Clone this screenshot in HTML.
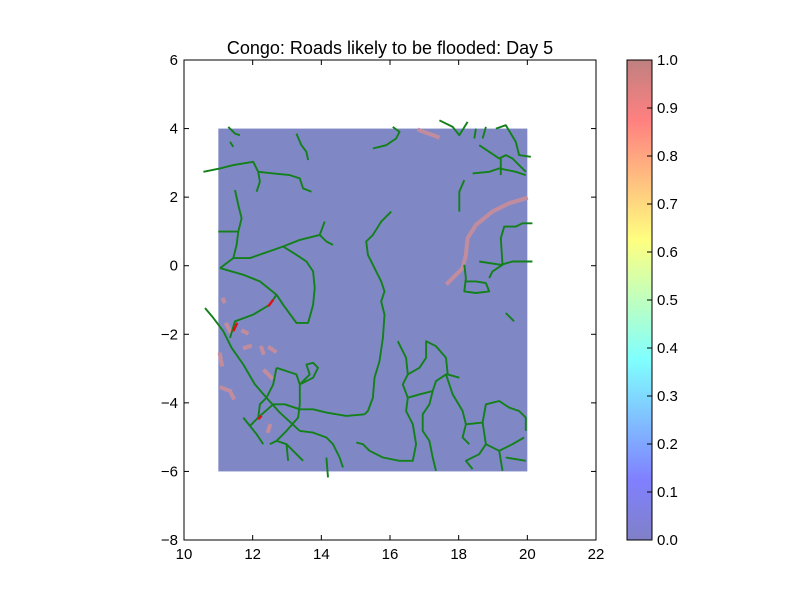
<!DOCTYPE html>
<html><head><meta charset="utf-8"><style>
html,body{margin:0;padding:0;background:#fff;}
svg{display:block;font-family:"Liberation Sans",Arial,sans-serif;}
</style></head><body>
<svg id="chart" width="800" height="600" viewBox="0 0 800 600">
<defs>
<linearGradient id="jet" x1="0" y1="1" x2="0" y2="0">
<stop offset="0" stop-color="#00008f"/><stop offset="0.125" stop-color="#0000ff"/>
<stop offset="0.375" stop-color="#00ffff"/><stop offset="0.625" stop-color="#ffff00"/>
<stop offset="0.875" stop-color="#ff0000"/><stop offset="1" stop-color="#800000"/>
</linearGradient>
</defs>
<text x="390" y="54" font-size="18" text-anchor="middle">Congo: Roads likely to be flooded: Day 5</text>
<g id="plot"></g>
<rect x="184" y="60" width="412" height="480" fill="none" stroke="#000" stroke-width="1"/>
<g id="axes"></g>
<g id="cbar">
<rect x="627" y="60" width="25" height="480" fill="url(#jet)" opacity="0.5"/>
<rect x="627" y="60" width="25" height="480" fill="none" stroke="#000"/>
</g>
</svg>
<script>
const xTicks=[10,12,14,16,18,20,22];
const yTicks=[6,4,2,0,-2,-4,-6,-8];
const cbTicks=[0,0.1,0.2,0.3,0.4,0.5,0.6,0.7,0.8,0.9,1.0];
const domainRect=[11,20,-6,4];
// road traces as reference-grid coordinates (converted to lon/lat below)
const roadsRaw=[
[575,300,545,330,520,370,500,390,505,430,520,460,545,510,555,540,545,570,555,610,550,680,540,750,525,800,520,860,505,900,495,910],
[495,910,440,915,380,905,340,895,300,895,255,880,220,880,175,920,150,945],
[15,590,40,620,70,660,95,710,130,760,165,820,200,860,240,905,300,960],
[60,470,100,440,150,440,250,405,300,385,360,370,375,330],
[360,370,380,390,400,400],
[250,405,290,430,320,450,340,480,345,530,340,580,325,635,290,635,250,580,230,550],
[60,470,130,490,180,510,230,550,210,580,160,610,105,630,90,680],
[105,235,115,280,125,320,115,360,80,360,55,360],
[115,360,110,400,100,440],
[10,180,60,170,100,160,160,150,175,180,220,185,270,190,300,200,310,230,335,240],
[175,180,180,210,170,240],
[290,65,305,100,320,120,325,145],
[520,110,560,100,590,80,600,60,580,45],
[85,45,105,65,120,70],[90,90,100,105],
[720,25,760,45,780,70,805,30],[830,50,825,80],[860,45,850,80],
[890,50,920,40,950,90,960,130,995,135],
[840,100,870,120,900,140,920,130,940,140,980,180],
[820,185,870,180,900,170,950,180,980,190],[905,140,905,190],
[795,205,780,240,780,300],
[1000,335,970,335,950,345,915,345,905,380,910,460,880,480,870,500],
[840,450,905,460,940,450,1000,450],
[795,460,800,500,795,540,830,545,870,540,860,515,830,510,800,510],
[595,690,620,740,625,790,610,820,625,860,620,900,640,940,650,1000,640,1050,600,1050,550,1040,510,1020,490,1000,470,995],
[625,790,660,770,680,740,680,690,710,705,740,740,745,790,780,800],
[625,860,660,850,700,840,710,810,740,790,760,850,790,900,800,940,790,980,810,1000],
[700,840,690,880,670,910,670,960,690,990,700,1040,710,1080],
[800,940,850,935,860,880,900,870,930,890,960,900,980,920,980,960],
[850,935,860,1000,840,1030,800,1050,820,1075],
[860,1000,900,1020,940,1000,975,980],[900,1020,910,1080],[920,1040,980,1050],
[230,770,260,780,290,790,300,820,330,790,320,760,340,755,355,770,340,800,300,820,300,880,295,920,260,960,230,990,210,1000],
[230,770,220,820,200,860,180,880,175,920],
[300,960,340,965,380,980,400,1000,420,1040,430,1070],[380,1040,385,1100],
[230,990,260,1000,280,1020,310,1050],[260,1000,265,1050],
[130,920,150,945,170,970,190,1000],
[920,605,945,630]
];
const floodRaw=[
[745,515,770,490,790,470,800,430,805,380,830,340,880,300,930,275,980,260],
[660,55,715,75],
[80,640,90,660],[130,660,140,665],[135,710,150,705],[185,710,190,725],[210,710,225,720],
[195,780,215,800],[65,830,90,840],[95,850,100,860],[210,945,205,960],[70,565,72,570],[60,730,65,760]
];
const redRaw=[[205,585,220,565],[100,660,112,635],[175,925,185,915]];
const lonOf=g=>11+(g-55)/103.3, latOf=g=>4-(g-50)/103.2;
const X=v=>184+(v-10)*(412/12), Y=v=>60+(6-v)*(480/14);
const NS='http://www.w3.org/2000/svg';
const plot=document.getElementById('plot'), axes=document.getElementById('axes');
function mk(t,a,p){const e=document.createElementNS(NS,t);for(const k in a)e.setAttribute(k,a[k]);p.appendChild(e);return e;}
const bg=mk('rect',{x:X(domainRect[0]),y:Y(domainRect[3]),width:X(domainRect[1])-X(domainRect[0]),height:Y(domainRect[2])-Y(domainRect[3]),fill:'#7f88c5'},plot);


function pts(r){let s=[];for(let i=0;i<r.length;i+=2)s.push(X(lonOf(r[i])).toFixed(1)+','+Y(latOf(r[i+1])).toFixed(1));return s.join(' ');}
floodRaw.forEach(r=>{const e=mk('polyline',{points:pts(r),fill:'none',stroke:'#c28c9f','stroke-width':4,'stroke-linecap':'square'},plot);

});
roadsRaw.forEach(r=>{const e=mk('polyline',{points:pts(r),fill:'none',stroke:'#13801a','stroke-width':1.9,'stroke-linejoin':'round'},plot);

});
redRaw.forEach(r=>{const e=mk('polyline',{points:pts(r),fill:'none',stroke:'#e01010','stroke-width':2.4},plot);

});
const fmt=v=>(v<0?'\u2212':'')+Math.abs(v);
xTicks.forEach(v=>{const x=X(v);
mk('line',{x1:x,y1:540,x2:x,y2:535,stroke:'#000'},axes);mk('line',{x1:x,y1:60,x2:x,y2:65,stroke:'#000'},axes);
const t=mk('text',{x:x,y:559,'font-size':15,'text-anchor':'middle'},axes);t.textContent=fmt(v);

});
yTicks.forEach(v=>{const y=Y(v);
mk('line',{x1:184,y1:y,x2:189,y2:y,stroke:'#000'},axes);mk('line',{x1:596,y1:y,x2:591,y2:y,stroke:'#000'},axes);
const t=mk('text',{x:178,y:y+5,'font-size':15,'text-anchor':'end'},axes);t.textContent=fmt(v);

});
const cb=document.getElementById('cbar');
cbTicks.forEach(v=>{const y=540-v*480;
mk('line',{x1:647,y1:y,x2:652,y2:y,stroke:'#000'},cb);
const t=mk('text',{x:657,y:y+5,'font-size':15},cb);t.textContent=v.toFixed(1);

});
</script>
</body></html>
